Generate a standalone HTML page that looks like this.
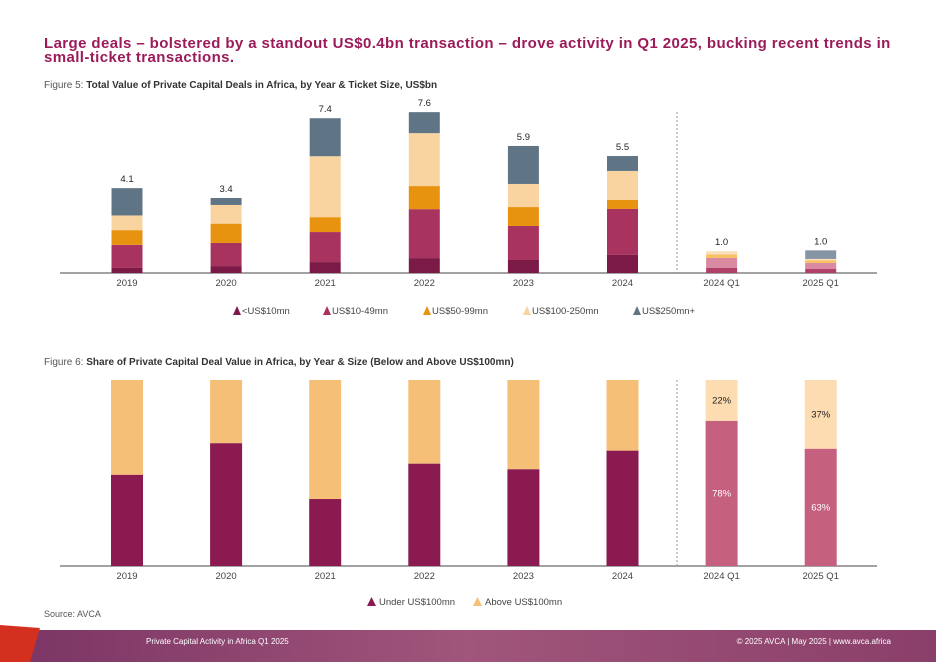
<!DOCTYPE html>
<html><head><meta charset="utf-8">
<style>
body{margin:0;width:936px;height:662px;overflow:hidden;background:#fff;font-family:"Liberation Sans",sans-serif;position:relative}
.t{position:absolute;left:44px;top:37px;width:890px;color:#9b1b5a;font-weight:bold;font-size:15px;letter-spacing:0.4px;line-height:14px}
.fig{position:absolute;left:44px;font-size:10px;color:#555}
.fig b{color:#333}
svg{position:absolute;left:0;top:0}
text{font-family:"Liberation Sans",sans-serif}
</style></head><body>
<div class="t">Large deals – bolstered by a standout US$0.4bn transaction – drove activity in Q1 2025, bucking recent trends in<br>small-ticket transactions.</div>
<div class="fig" style="top:80px">Figure 5: <b>Total Value of Private Capital Deals in Africa, by Year &amp; Ticket Size, US$bn</b></div>
<div class="fig" style="top:357px">Figure 6: <b>Share of Private Capital Deal Value in Africa, by Year &amp; Size (Below and Above US$100mn)</b></div>
<div class="fig" style="top:609px;font-size:9px">Source: AVCA</div>
<svg id="c" width="936" height="662">
<defs>
<linearGradient id="foot" x1="0" x2="1"><stop offset="0" stop-color="#7a3464"/><stop offset="0.5" stop-color="#a0557a"/><stop offset="1" stop-color="#8a3f6a"/></linearGradient>
</defs>
<rect x="0" y="630" width="936" height="32" fill="url(#foot)"/>
<polygon points="0,625 40,628 30,662 0,662" fill="#d4301f"/>
<text x="146" y="644" font-size="8" fill="#fff">Private Capital Activity in Africa Q1 2025</text>
<text x="891" y="644" font-size="8" fill="#fff" text-anchor="end">© 2025 AVCA  |  May 2025  |  www.avca.africa</text>
</svg>
<script>
const cats=["2019","2020","2021","2022","2023","2024","2024 Q1","2025 Q1"];
const s10=[0.24,0.33,0.52,0.71,0.62,0.86,0.24,0.19];
const s10_49=[1.1,1.1,1.43,2.33,1.62,2.19,0.48,0.29];
const s50_99=[0.7,0.92,0.71,1.1,0.9,0.43,0.16,0.13];
const s100_250=[0.7,0.89,2.9,2.52,1.1,1.38,0.16,0.06];
const s250=[1.3,0.33,1.81,1.0,1.81,0.71,0,0.41];
const totals=["4.1","3.4","7.4","7.6","5.9","5.5","1.0","1.0"];
const underShare=[49,66,36,55,52,62,78,63];
const shareLabels=["","","","","","","78%","63%"];
const aboveLabels=["","","","","","","22%","37%"];
const NS='http://www.w3.org/2000/svg';
const svg=document.getElementById('c');
function el(t,a,txt){const e=document.createElementNS(NS,t);for(const k in a)e.setAttribute(k,a[k]);if(txt!==undefined)e.textContent=txt;svg.appendChild(e);return e;}
const xc=i=>127+i*99.1;
const y1=v=>273-v*21;
const base2=566,h2=186;
const y2=p=>base2-p/100*h2;
const cols=["#7b1a47","#a8335f","#e8930f","#f9d3a0","#5f7585"];
const colsQ=["#b0406a","#d98aa0","#f7c060","#fbe0bb","#8595a3"];
const series=[s10,s10_49,s50_99,s100_250,s250];
// chart 1
el('line',{x1:60,x2:877,y1:273,y2:273,stroke:'#444','stroke-width':1});
el('line',{x1:677,x2:677,y1:112,y2:273,stroke:'#999','stroke-dasharray':'2,2'});
cats.forEach((c,i)=>{
  let cum=0;
  series.forEach((s,k)=>{
    if(s[i]<=0)return;
    const r=el('rect',{x:xc(i)-15.5,y:y1(cum+s[i]),width:31,height:s[i]*21,fill:(i>=6?colsQ:cols)[k]});
    
    
    cum+=s[i];
  });
  const t=el('text',{x:xc(i),y:y1(cum)-6,'font-size':9.5,'text-anchor':'middle',fill:'#222'},totals[i]);
  
  
  const l=el('text',{x:xc(i),y:286,'font-size':9.5,'text-anchor':'middle',fill:'#444'},c);
  
  
});
const leg=[["<US$10mn",233],["US$10-49mn",323],["US$50-99mn",423],["US$100-250mn",523],["US$250mn+",633]];
leg.forEach((g,k)=>{
  const p=el('polygon',{points:`${g[1]},315 ${g[1]+4},306 ${g[1]+8},315`,fill:cols[k]});
  
  
  const t=el('text',{x:g[1]+9,y:314,'font-size':9.5,fill:'#444'},g[0]);
  
  
});
// chart 2
el('line',{x1:60,x2:877,y1:566,y2:566,stroke:'#444','stroke-width':1});
el('line',{x1:677,x2:677,y1:380,y2:566,stroke:'#999','stroke-dasharray':'2,2'});
cats.forEach((c,i)=>{
  const q=i>=6;
  const a=el('rect',{x:xc(i)-16,y:y2(100),width:32,height:y2(underShare[i])-y2(100),fill:q?'#fcdcb0':'#f6bf78'});
  
  
  const u=el('rect',{x:xc(i)-16,y:y2(underShare[i]),width:32,height:base2-y2(underShare[i]),fill:q?'#c5607f':'#8a1a4f'});
  
  
  if(shareLabels[i]){
    const t1=el('text',{x:xc(i),y:(y2(underShare[i])+base2)/2+3,'font-size':9.5,'text-anchor':'middle',fill:'#fff'},shareLabels[i]);
    
    
    const t2=el('text',{x:xc(i),y:(y2(underShare[i])+y2(100))/2+3,'font-size':9.5,'text-anchor':'middle',fill:'#222'},aboveLabels[i]);
    
    
  }
  const l=el('text',{x:xc(i),y:579,'font-size':9.5,'text-anchor':'middle',fill:'#444'},c);
  
  
});
[["Under US$100mn",367,"#8a1a4f"],["Above US$100mn",473,"#f6bf78"]].forEach(g=>{
  const p=el('polygon',{points:`${g[1]},606 ${g[1]+4.5},597 ${g[1]+9},606`,fill:g[2]});
  
  
  const t=el('text',{x:g[1]+12,y:605,'font-size':9.5,fill:'#444'},g[0]);
  
  
});
</script>
</body></html>
